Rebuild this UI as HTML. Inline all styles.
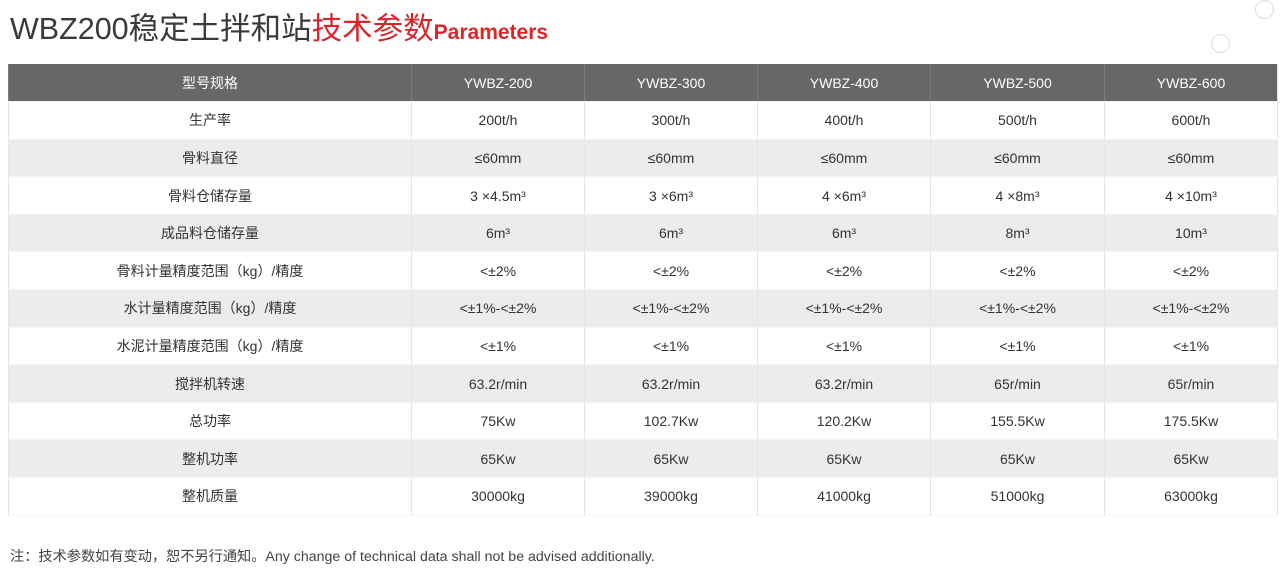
<!DOCTYPE html>
<html><head><meta charset="utf-8"><style>
body{margin:0;width:1284px;height:576px;background:#fff;position:relative;overflow:hidden;font-family:"Liberation Sans","Noto Sans CJK SC",sans-serif;}
.title{position:absolute;left:10px;top:4px;font-size:30.5px;color:#3a3a3a;white-space:nowrap;letter-spacing:0px}
.title .r{color:#d8262b}
.title .p{color:#d8262b;font-weight:bold;font-size:21px}
table{position:absolute;left:8px;top:64px;width:1269px;border-collapse:collapse;table-layout:fixed}
td{height:37.6px;padding:0;text-align:center;font-size:14px;color:#333;border-left:1px solid #e4e4e4;border-bottom:1px solid #f4f4f4;box-sizing:border-box}
tr.h td{background:#676767;color:#fff;border-left:1px solid #7a7a7a}
tr.g td{background:#ececec}
table{border-left:1px solid #e4e4e4;border-right:1px solid #e4e4e4;border-bottom:1px solid #e4e4e4}
.note{position:absolute;left:10px;top:546px;font-size:14.2px;color:#444;white-space:nowrap}
.c{position:absolute;border:1.5px solid #ddd;border-radius:50%;width:17px;height:17px;left:1211px;top:34px}
</style></head><body>
<div class="title">WBZ200稳定土拌和站<span class="r">技术参数</span><span class="p">Parameters</span></div>
<div class="c"></div><div class="c" style="left:1255px;top:0px"></div>
<table>
<colgroup><col style="width:403px"><col style="width:173px"><col style="width:173px"><col style="width:173px"><col style="width:174px"><col style="width:173px"></colgroup>
<tr class="h"><td>型号规格</td><td>YWBZ-200</td><td>YWBZ-300</td><td>YWBZ-400</td><td>YWBZ-500</td><td>YWBZ-600</td></tr>
<tr><td>生产率</td><td>200t/h</td><td>300t/h</td><td>400t/h</td><td>500t/h</td><td>600t/h</td></tr>
<tr class="g"><td>骨料直径</td><td>≤60mm</td><td>≤60mm</td><td>≤60mm</td><td>≤60mm</td><td>≤60mm</td></tr>
<tr><td>骨料仓储存量</td><td>3 ×4.5m³</td><td>3 ×6m³</td><td>4 ×6m³</td><td>4 ×8m³</td><td>4 ×10m³</td></tr>
<tr class="g"><td>成品料仓储存量</td><td>6m³</td><td>6m³</td><td>6m³</td><td>8m³</td><td>10m³</td></tr>
<tr><td>骨料计量精度范围（kg）/精度</td><td>&lt;±2%</td><td>&lt;±2%</td><td>&lt;±2%</td><td>&lt;±2%</td><td>&lt;±2%</td></tr>
<tr class="g"><td>水计量精度范围（kg）/精度</td><td>&lt;±1%-&lt;±2%</td><td>&lt;±1%-&lt;±2%</td><td>&lt;±1%-&lt;±2%</td><td>&lt;±1%-&lt;±2%</td><td>&lt;±1%-&lt;±2%</td></tr>
<tr><td>水泥计量精度范围（kg）/精度</td><td>&lt;±1%</td><td>&lt;±1%</td><td>&lt;±1%</td><td>&lt;±1%</td><td>&lt;±1%</td></tr>
<tr class="g"><td>搅拌机转速</td><td>63.2r/min</td><td>63.2r/min</td><td>63.2r/min</td><td>65r/min</td><td>65r/min</td></tr>
<tr><td>总功率</td><td>75Kw</td><td>102.7Kw</td><td>120.2Kw</td><td>155.5Kw</td><td>175.5Kw</td></tr>
<tr class="g"><td>整机功率</td><td>65Kw</td><td>65Kw</td><td>65Kw</td><td>65Kw</td><td>65Kw</td></tr>
<tr><td>整机质量</td><td>30000kg</td><td>39000kg</td><td>41000kg</td><td>51000kg</td><td>63000kg</td></tr>
</table>
<div class="note">注：技术参数如有变动，恕不另行通知。Any change of technical data shall not be advised additionally.</div>
</body></html>
